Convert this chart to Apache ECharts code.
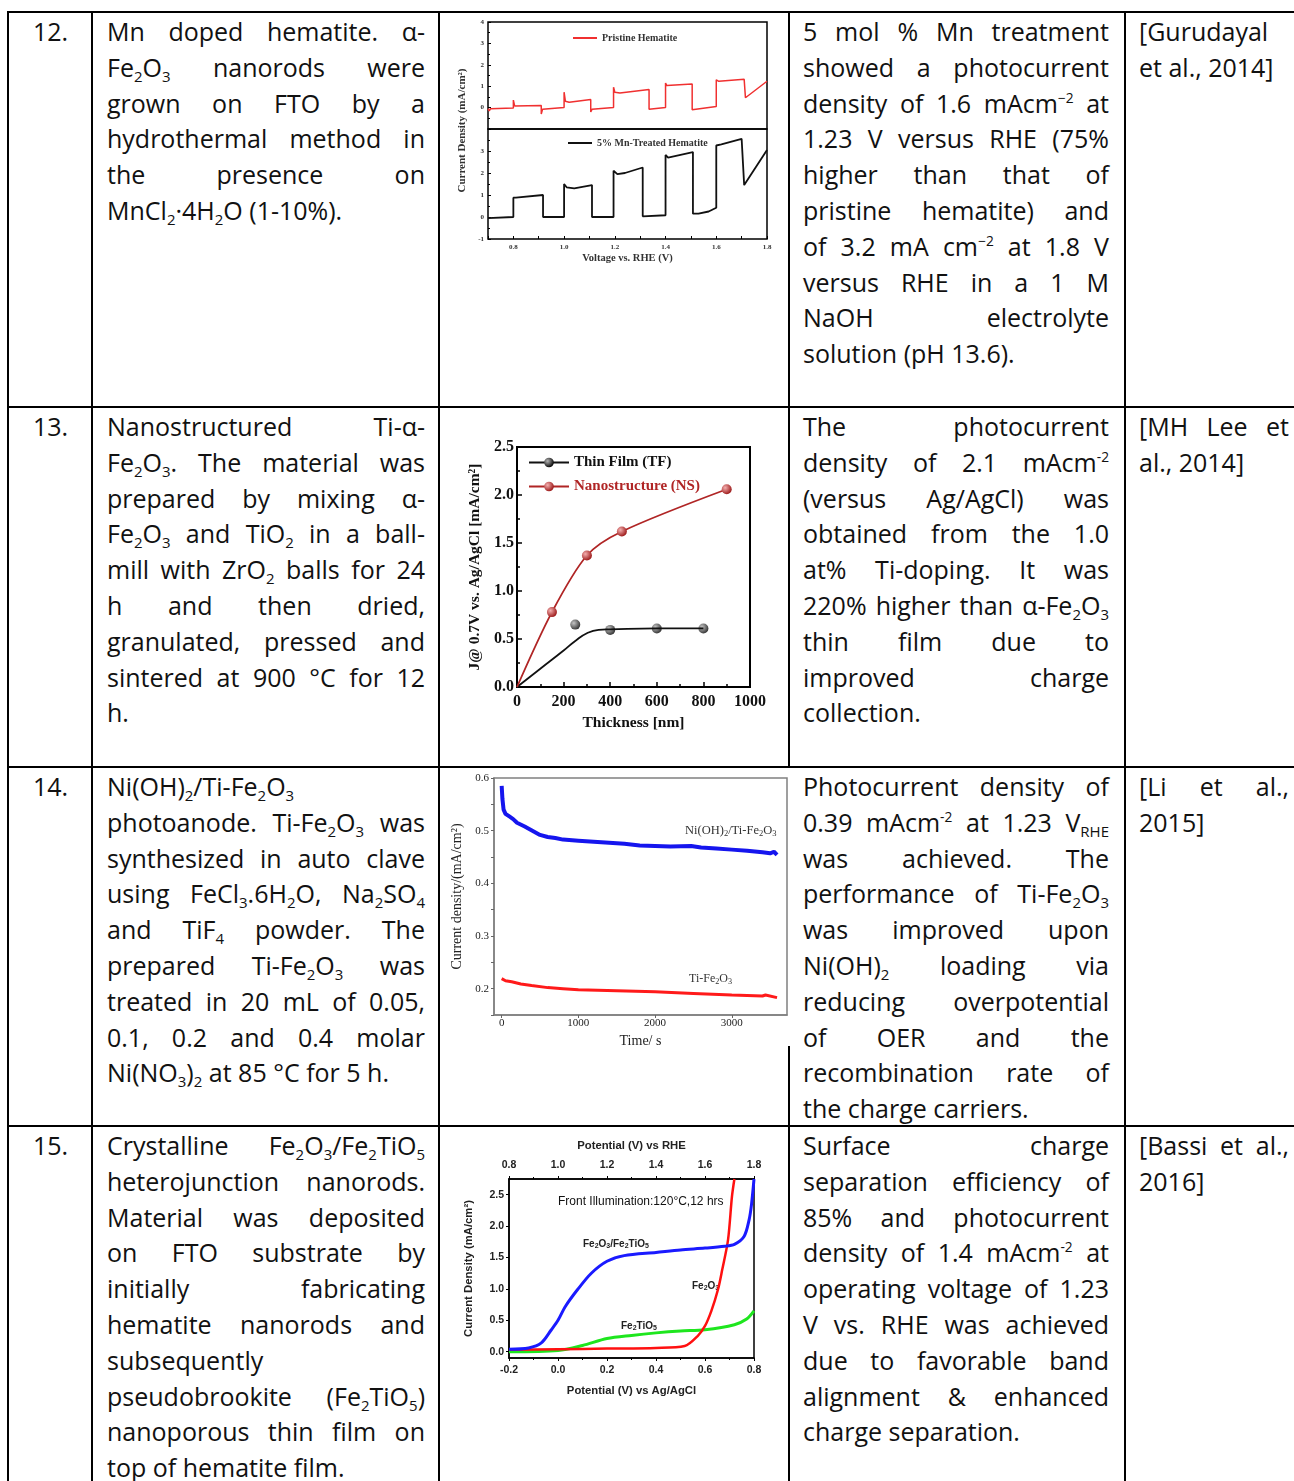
<!DOCTYPE html>
<html>
<head>
<meta charset="utf-8">
<title>Hematite photoanodes</title>
<script src="https://cdn.jsdelivr.net/npm/echarts@6.0.0/dist/echarts.min.js"></script>
<style>
  html, body { margin: 0; padding: 0; background: #fff; }
  #page { position: relative; width: 1294px; height: 1481px; overflow: hidden; background: #fff;
          font-family: 'Open Sans', Lato, sans-serif; font-size: 25px; color: #111; }
  .hl { position: absolute; left: 7px; right: 0; height: 2px; background: #000; z-index: 1; }
  .vl { position: absolute; width: 2px; top: 11px; bottom: 0; background: #000; z-index: 1; }
  .cell { position: absolute; z-index: 3; }
  .ln { height: 35.8px; line-height: 35.8px; white-space: nowrap; }
  .ln.j { display: flex; justify-content: space-between; align-items: baseline; }
  .ln span { flex: 0 0 auto; }
  sub { font-size: 0.6em; vertical-align: -0.3em; line-height: 0; }
  sup { font-size: 0.55em; vertical-align: 0.75em; line-height: 0; }
  .chart { position: absolute; z-index: 2; }
</style>
</head>
<body>
<div id="page"></div>
<script>
// ---- chart 1: Mn doped hematite, chopped light (x = V vs RHE, y = mA/cm2)
const mnPristine = [
  [0.70, -0.05], [0.705, -0.15], [0.71, -0.05], [0.80, -0.02], [0.80, 0.35], [0.805, 0.08],
  [0.91, 0.10], [0.91, -0.30], [0.915, -0.08], [1.00, 0.00], [1.00, 0.72], [1.005, 0.30],
  [1.02, 0.25], [1.105, 0.38], [1.105, -0.20], [1.11, -0.08], [1.195, 0.00], [1.195, 0.95],
  [1.20, 0.72], [1.22, 0.68], [1.335, 0.85], [1.335, -0.08], [1.34, -0.10], [1.40, 0.00],
  [1.40, 1.15], [1.405, 1.03], [1.505, 1.10], [1.505, -0.10], [1.51, -0.05], [1.60, 0.05],
  [1.60, 1.30], [1.61, 1.23], [1.71, 1.32], [1.715, 0.46], [1.80, 1.23]
];
const mnTreated = [
  [0.70, -0.05], [0.80, 0.00], [0.80, 0.88], [0.81, 0.88], [0.917, 1.00], [0.917, 0.00],
  [1.00, 0.00], [1.00, 1.50], [1.01, 1.35], [1.04, 1.30], [1.11, 1.45], [1.11, 0.00],
  [1.195, 0.00], [1.195, 2.10], [1.21, 1.95], [1.24, 2.00], [1.31, 2.25], [1.31, 0.03],
  [1.40, 0.08], [1.40, 2.82], [1.41, 2.70], [1.508, 2.95], [1.508, 0.15], [1.53, 0.15],
  [1.57, 0.25], [1.60, 0.42], [1.60, 3.25], [1.62, 3.30], [1.70, 3.55], [1.71, 1.45],
  [1.80, 3.05]
];

// ---- chart 2: J @ 0.7 V vs thickness
const tfCurve = [[0, 0], [100, 0.19], [200, 0.38], [250, 0.48], [300, 0.56], [350, 0.595], [400, 0.60], [600, 0.61], [800, 0.61]];
const tfPoints = [[250, 0.65], [400, 0.595], [600, 0.61], [800, 0.61]];
const nsPoints = [[0, 0], [150, 0.78], [300, 1.37], [450, 1.62], [900, 2.06]];

// ---- chart 3: stability, current density vs time
const niohTi = [
  [0, 0.585], [10, 0.56], [25, 0.54], [50, 0.532], [100, 0.527], [150, 0.522], [200, 0.515],
  [300, 0.508], [400, 0.5], [500, 0.492], [600, 0.488], [700, 0.486], [800, 0.483], [1000, 0.481],
  [1200, 0.479], [1400, 0.477], [1600, 0.475], [1800, 0.472], [2000, 0.471], [2200, 0.47],
  [2470, 0.471], [2600, 0.468], [2800, 0.466], [3000, 0.464], [3200, 0.462], [3400, 0.459],
  [3500, 0.457], [3550, 0.46], [3590, 0.454]
];
const tiOnly = [
  [0, 0.219], [50, 0.215], [130, 0.213], [250, 0.209], [390, 0.206], [600, 0.202], [800, 0.2],
  [1000, 0.198], [1500, 0.196], [2000, 0.194], [2500, 0.191], [3000, 0.188], [3400, 0.186],
  [3440, 0.188], [3590, 0.183]
];
const timeTicks = [0, 1000, 2000, 3000];

// ---- chart 4: LSV, x = V vs Ag/AgCl
const heteroJ = [
  [-0.2, 0.04], [-0.12, 0.06], [-0.068, 0.14], [-0.027, 0.35], [0.0, 0.5], [0.03, 0.72],
  [0.08, 0.99], [0.136, 1.25], [0.2, 1.44], [0.27, 1.53], [0.4, 1.58], [0.5, 1.62], [0.6, 1.65],
  [0.68, 1.68], [0.72, 1.71], [0.76, 1.84], [0.78, 2.1], [0.79, 2.35], [0.8, 2.75]
];
const hematiteJ = [
  [-0.2, 0.03], [0.0, 0.04], [0.2, 0.05], [0.4, 0.06], [0.517, 0.09], [0.57, 0.25], [0.6, 0.41],
  [0.626, 0.65], [0.653, 0.99], [0.67, 1.3], [0.694, 1.78], [0.71, 2.47], [0.72, 2.75]
];
const pseudoJ = [
  [-0.2, 0.0], [0.0, 0.02], [0.1, 0.1], [0.2, 0.21], [0.3, 0.26], [0.4, 0.30], [0.5, 0.33],
  [0.6, 0.35], [0.72, 0.43], [0.77, 0.52], [0.8, 0.65]
];
const currentTicks = [0, 0.5, 1.0, 1.5, 2.0, 2.5];

// ---- table text
const rows = [
  { top: 12, num: '12.',
    desc: ['Mn doped hematite. α-', 'Fe<sub>2</sub>O<sub>3</sub> nanorods were', 'grown on FTO by a',
      'hydrothermal method in', 'the presence on', 'MnCl<sub>2</sub>·4H<sub>2</sub>O (1-10%).'],
    result: ['5 mol % Mn treatment', 'showed a photocurrent', 'density of 1.6 mAcm<sup>−2</sup> at',
      '1.23 V versus RHE (75%', 'higher than that of', 'pristine hematite) and',
      'of 3.2 mA cm<sup>−2</sup> at 1.8 V', 'versus RHE in a 1 M', 'NaOH electrolyte', 'solution (pH 13.6).'],
    ref: ['|[Gurudayal', 'et al., 2014]'] },
  { top: 407, num: '13.',
    desc: ['Nanostructured Ti-α-', 'Fe<sub>2</sub>O<sub>3</sub>. The material was', 'prepared by mixing α-',
      'Fe<sub>2</sub>O<sub>3</sub> and TiO<sub>2</sub> in a ball-', 'mill with ZrO<sub>2</sub> balls for 24',
      'h and then dried,', 'granulated, pressed and', 'sintered at 900 °C for 12', 'h.'],
    result: ['The photocurrent', 'density of 2.1 mAcm<sup>-2</sup>', '(versus Ag/AgCl) was',
      'obtained from the 1.0', 'at% Ti-doping. It was', '220% higher than α-Fe<sub>2</sub>O<sub>3</sub>',
      'thin film due to', 'improved charge', 'collection.'],
    ref: ['[MH Lee et', 'al., 2014]'] },
  { top: 767, num: '14.',
    desc: ['|Ni(OH)<sub>2</sub>/Ti-Fe<sub>2</sub>O<sub>3</sub>', 'photoanode. Ti-Fe<sub>2</sub>O<sub>3</sub> was',
      'synthesized in auto clave', 'using FeCl<sub>3</sub>.6H<sub>2</sub>O, Na<sub>2</sub>SO<sub>4</sub>',
      'and TiF<sub>4</sub> powder. The', 'prepared Ti-Fe<sub>2</sub>O<sub>3</sub> was',
      'treated in 20 mL of 0.05,', '0.1, 0.2 and 0.4 molar', 'Ni(NO<sub>3</sub>)<sub>2</sub> at 85 °C for 5 h.'],
    result: ['Photocurrent density of', '0.39 mAcm<sup>-2</sup> at 1.23 V<sub>RHE</sub>', 'was achieved. The',
      'performance of Ti-Fe<sub>2</sub>O<sub>3</sub>', 'was improved upon', 'Ni(OH)<sub>2</sub> loading via',
      'reducing overpotential', 'of OER and the', 'recombination rate of', 'the charge carriers.'],
    ref: ['[Li et al.,', '2015]'] },
  { top: 1126, num: '15.',
    desc: ['Crystalline Fe<sub>2</sub>O<sub>3</sub>/Fe<sub>2</sub>TiO<sub>5</sub>', 'heterojunction nanorods.',
      'Material was deposited', 'on FTO substrate by', 'initially fabricating', 'hematite nanorods and',
      '|subsequently', 'pseudobrookite (Fe<sub>2</sub>TiO<sub>5</sub>)', 'nanoporous thin film on',
      'top of hematite film.'],
    result: ['Surface charge', 'separation efficiency of', '85% and photocurrent',
      'density of 1.4 mAcm<sup>-2</sup> at', 'operating voltage of 1.23', 'V vs. RHE was achieved',
      'due to favorable band', 'alignment &amp; enhanced', 'charge separation.'],
    ref: ['[Bassi et al.,', '2016]'] }
];

const page = document.getElementById('page');

// table rules
[12, 407, 767, 1126].forEach(y => {
  const d = document.createElement('div');
  d.className = 'hl'; d.style.top = (y - 1) + 'px';
  page.appendChild(d);
});
[8, 92, 439, 789, 1125].forEach(x => {
  const d = document.createElement('div');
  d.className = 'vl'; d.style.left = (x - 1) + 'px';
  page.appendChild(d);
});

function putCell(x, y, w, lines, align) {
  const box = document.createElement('div');
  box.className = 'cell';
  box.style.left = x + 'px'; box.style.top = y + 'px'; box.style.width = w + 'px';
  if (align) box.style.textAlign = align;
  lines.forEach((raw, i) => {
    let s = raw, just = i < lines.length - 1;
    if (s[0] === '|') { s = s.slice(1); just = false; }
    const d = document.createElement('div');
    d.className = just ? 'ln j' : 'ln';
    d.innerHTML = just ? s.split(' ').map(t => '<span>' + t + '</span>').join('') : s;
    box.appendChild(d);
  });
  page.appendChild(box);
}

rows.forEach(r => {
  putCell(9, r.top + 2, 83, ['|' + r.num], 'center');
  putCell(107, r.top + 2, 318, r.desc);
  putCell(803, r.top + 2, 306, r.result);
  putCell(1139, r.top + 2, 150, r.ref);
});

// squeeze any line that does not fit its cell
document.querySelectorAll('.ln').forEach(d => {
  const over = d.scrollWidth - d.clientWidth;
  if (over > 0) {
    const n = d.textContent.length;
    d.style.letterSpacing = (-(over + 2) / n) + 'px';
  }
});

// ---- charts
const SERIF = 'Liberation Serif, Times New Roman, serif';
const SANS = 'Liberation Sans, Arial, sans-serif';

function makeChart(left, top, w, h, bg) {
  const d = document.createElement('div');
  d.className = 'chart';
  Object.assign(d.style, { left: left + 'px', top: top + 'px', width: w + 'px', height: h + 'px', background: bg || 'transparent' });
  page.appendChild(d);
  return echarts.init(d);
}

function sphere(light, dark) {
  return { type: 'radial', x: 0.35, y: 0.35, r: 0.7,
    colorStops: [{ offset: 0, color: light }, { offset: 1, color: dark }] };
}

// chart 1
const c1 = makeChart(441, 13, 346, 392);
const c1Font = { fontFamily: SERIF, fontWeight: 'bold', fontSize: 7, color: '#333' };
const c1x = (show) => ({
  type: 'value', min: 0.7, max: 1.8, interval: 0.1,
  axisLine: { show: false, onZero: false },
  axisTick: { show: show, inside: true, length: 3, lineStyle: { color: '#000' } },
  axisLabel: { show: show, margin: 5, ...c1Font,
    formatter: v => Math.round(v * 10) % 2 === 0 ? v.toFixed(1) : '' },
  splitLine: { show: false }
});
const c1y = (hide) => ({
  type: 'value', min: -1, max: 4, interval: 1,
  axisLine: { show: false, onZero: false },
  axisTick: { inside: true, length: 3, lineStyle: { color: '#000' } },
  minorTick: { show: true, splitNumber: 2, length: 2, lineStyle: { color: '#000' } },
  axisLabel: { margin: 4, ...c1Font, formatter: v => v === hide ? '' : String(v) },
  splitLine: { show: false }
});
const c1Legend = { fontFamily: SERIF, fontWeight: 'bold', fontSize: 10, color: '#333' };
c1.setOption({
  animation: false,
  grid: [
    { left: 47, top: 9, width: 279, height: 107, show: true, borderColor: '#000', borderWidth: 1.5, outerBoundsMode: 'none' },
    { left: 47, top: 116, width: 279, height: 110, show: true, borderColor: '#000', borderWidth: 1.5, outerBoundsMode: 'none' }
  ],
  xAxis: [
    { gridIndex: 0, ...c1x(false) },
    { gridIndex: 1, ...c1x(true), name: 'Voltage vs. RHE (V)', nameLocation: 'middle', nameGap: 14,
      nameTextStyle: { fontFamily: SERIF, fontWeight: 'bold', fontSize: 10.5, color: '#333' } }
  ],
  yAxis: [
    { gridIndex: 0, ...c1y(-1) },
    { gridIndex: 1, ...c1y(4) }
  ],
  legend: [
    { data: ['Pristine Hematite'], left: 132, top: 20, padding: 0, icon: 'rect', itemWidth: 24, itemHeight: 2,
      textStyle: c1Legend },
    { data: ['5% Mn-Treated Hematite'], left: 127, top: 125, padding: 0, icon: 'rect', itemWidth: 24, itemHeight: 2,
      textStyle: c1Legend }
  ],
  graphic: [{
    type: 'text', x: 21, y: 117.5, rotation: Math.PI / 2,
    style: { text: 'Current Density (mA/cm²)', fontFamily: SERIF, fontWeight: 'bold', fontSize: 11,
      fill: '#333', align: 'center', verticalAlign: 'middle' }
  }],
  series: [
    { name: 'Pristine Hematite', type: 'line', xAxisIndex: 0, yAxisIndex: 0, symbol: 'none',
      data: mnPristine, lineStyle: { color: '#f03030', width: 1.5 }, itemStyle: { color: '#f03030' } },
    { name: '5% Mn-Treated Hematite', type: 'line', xAxisIndex: 1, yAxisIndex: 1, symbol: 'none',
      data: mnTreated, lineStyle: { color: '#111', width: 1.8 }, itemStyle: { color: '#111' } }
  ]
});

// chart 2
const c2 = makeChart(441, 408, 346, 358);
const c2Font = { fontFamily: SERIF, fontWeight: 'bold', fontSize: 16, color: '#111' };
c2.setOption({
  animation: false,
  grid: { left: 76, top: 39, width: 233, height: 240, show: true, borderColor: '#000', borderWidth: 2, outerBoundsMode: 'none' },
  xAxis: {
    type: 'value', min: 0, max: 1000, interval: 200,
    axisLine: { onZero: false, lineStyle: { color: '#000', width: 2 } },
    axisTick: { inside: true, length: 5, lineStyle: { color: '#000', width: 1.5 } },
    minorTick: { show: true, splitNumber: 2, length: 3, lineStyle: { color: '#000', width: 1.5 } },
    axisLabel: { margin: 7, ...c2Font, formatter: v => String(v) },
    splitLine: { show: false },
    name: 'Thickness [nm]', nameLocation: 'middle', nameGap: 28, nameTextStyle: { ...c2Font, fontSize: 15.5 }
  },
  yAxis: {
    type: 'value', min: 0, max: 2.5, interval: 0.5,
    axisLine: { onZero: false, lineStyle: { color: '#000', width: 2 } },
    axisTick: { inside: true, length: 5, lineStyle: { color: '#000', width: 1.5 } },
    minorTick: { show: true, splitNumber: 2, length: 3, lineStyle: { color: '#000', width: 1.5 } },
    axisLabel: { margin: 3, ...c2Font, formatter: v => v.toFixed(1) },
    splitLine: { show: false },
    name: 'J@ 0.7V vs. Ag/AgCl [mA/cm²]', nameLocation: 'middle', nameGap: 32, nameTextStyle: { ...c2Font, fontSize: 15.5 }
  },
  legend: {
    data: ['Thin Film (TF)', { name: 'Nanostructure (NS)', textStyle: { color: '#b02525' } }],
    orient: 'vertical', left: 87, top: 47, padding: 0, itemWidth: 40, itemHeight: 12, itemGap: 9,
    textStyle: { ...c2Font, fontSize: 15 }
  },
  series: [
    { name: 'Thin Film (TF)', type: 'line', smooth: 0.5, symbol: 'circle', symbolSize: 10,
      data: tfCurve.map(p => ({ value: p, symbol: 'none' })),
      lineStyle: { color: '#111', width: 1.8 }, itemStyle: { color: sphere('#b5b5b5', '#000') } },
    { name: 'TF data', type: 'scatter', symbolSize: 10, data: tfPoints,
      itemStyle: { color: sphere('#b5b5b5', '#000') } },
    { name: 'Nanostructure (NS)', type: 'line', smooth: 0.3, symbol: 'circle', symbolSize: 10,
      data: nsPoints.map((p, i) => i === 0 ? { value: p, symbol: 'none' } : p),
      lineStyle: { color: '#b02525', width: 1.8 }, itemStyle: { color: sphere('#f4b0b0', '#9a1515') } }
  ]
});

// chart 3
const c3 = makeChart(444, 768, 346, 278, '#fff');
const c3Font = { fontFamily: SERIF, fontSize: 11, color: '#222' };
const sub3 = (size) => ({
  a: { fontFamily: SERIF, fontSize: size, lineHeight: 14, fill: '#333' },
  s: { fontFamily: SERIF, fontSize: size * 0.68, lineHeight: 12, verticalAlign: 'bottom', fill: '#333' }
});
c3.setOption({
  animation: false,
  grid: { left: 50, top: 10, width: 293, height: 237, show: true, borderColor: '#808080', borderWidth: 1.5, outerBoundsMode: 'none' },
  xAxis: {
    type: 'value', min: -100, max: 3720,
    axisLine: { onZero: false, lineStyle: { color: '#808080', width: 1.5 } },
    axisTick: { customValues: timeTicks, length: 3, lineStyle: { color: '#666' } },
    axisLabel: { customValues: timeTicks, margin: 3, ...c3Font, formatter: v => String(v) },
    splitLine: { show: false },
    name: 'Time/ s', nameLocation: 'middle', nameGap: 16,
    nameTextStyle: { fontFamily: SERIF, fontSize: 14, color: '#222' }
  },
  yAxis: {
    type: 'value', min: 0.15, max: 0.6, interval: 0.05,
    axisLine: { onZero: false, lineStyle: { color: '#808080', width: 1.5 } },
    axisTick: { length: 3, lineStyle: { color: '#666' } },
    axisLabel: { margin: 5, ...c3Font,
      formatter: v => Math.round(v * 100) % 10 === 0 ? v.toFixed(1) : '' },
    splitLine: { show: false },
    name: 'Current density/(mA/cm²)', nameLocation: 'middle', nameGap: 21,
    nameTextStyle: { fontFamily: SERIF, fontSize: 14, color: '#222' }
  },
  graphic: [
    { type: 'text', x: 241, y: 56, style: { text: '{a|Ni(OH)}{s|2}{a|/Ti-Fe}{s|2}{a|O}{s|3}', rich: sub3(12.5) } },
    { type: 'text', x: 245, y: 204, style: { text: '{a|Ti-Fe}{s|2}{a|O}{s|3}', rich: sub3(12) } }
  ],
  series: [
    { name: 'Ni(OH)2/Ti-Fe2O3', type: 'line', symbol: 'none', data: niohTi,
      lineStyle: { color: '#1515ee', width: 4 } },
    { name: 'Ti-Fe2O3', type: 'line', symbol: 'none', data: tiOnly,
      lineStyle: { color: '#ff1a1a', width: 3 } }
  ]
});

// chart 4
const c4 = makeChart(441, 1128, 346, 353);
const c4Font = { fontFamily: SANS, fontWeight: 'bold', fontSize: 10.5, color: '#222' };
const c4Name = { fontFamily: SANS, fontWeight: 'bold', fontSize: 11.3, color: '#222' };
const sub4 = {
  a: { fontFamily: SANS, fontWeight: 'bold', fontSize: 10, lineHeight: 12, fill: '#222' },
  s: { fontFamily: SANS, fontWeight: 'bold', fontSize: 7, lineHeight: 11, verticalAlign: 'bottom', fill: '#222' }
};
const c4x = {
  axisLine: { onZero: false, lineStyle: { color: '#000', width: 1.5 } },
  axisTick: { length: 3, lineStyle: { color: '#000' } },
  minorTick: { show: true, splitNumber: 2, length: 2, lineStyle: { color: '#000' } },
  splitLine: { show: false }
};
c4.setOption({
  animation: false,
  grid: { left: 68, top: 51, width: 245, height: 179, show: true, borderColor: '#000', borderWidth: 1.5, outerBoundsMode: 'none' },
  xAxis: [
    { type: 'value', position: 'bottom', min: -0.2, max: 0.8, interval: 0.2, ...c4x,
      axisLabel: { margin: 7, ...c4Font, formatter: v => v.toFixed(1) },
      name: 'Potential (V) vs Ag/AgCl', nameLocation: 'middle', nameGap: 27, nameTextStyle: c4Name },
    { type: 'value', position: 'top', min: 0.8, max: 1.8, interval: 0.2, ...c4x,
      axisLabel: { margin: 8, ...c4Font, formatter: v => v.toFixed(1) },
      name: 'Potential (V) vs RHE', nameLocation: 'middle', nameGap: 28, nameTextStyle: c4Name }
  ],
  yAxis: {
    type: 'value', min: -0.1, max: 2.75,
    axisLine: { onZero: false, lineStyle: { color: '#000', width: 1.5 } },
    axisTick: { customValues: currentTicks, length: 3, lineStyle: { color: '#000' } },
    axisLabel: { customValues: currentTicks, margin: 5, ...c4Font, formatter: v => v.toFixed(1) },
    splitLine: { show: false },
    name: 'Current Density (mA/cm²)', nameLocation: 'middle', nameGap: 35, nameTextStyle: c4Name
  },
  graphic: [
    { type: 'text', x: 117, y: 74, style: { text: 'Front Illumination:120°C,12 hrs', fontFamily: SANS,
      fontSize: 12, fill: '#111', verticalAlign: 'middle' } },
    { type: 'text', x: 142, y: 110, style: { text: '{a|Fe}{s|2}{a|O}{s|3}{a|/Fe}{s|2}{a|TiO}{s|5}', rich: sub4 } },
    { type: 'text', x: 251, y: 152, style: { text: '{a|Fe}{s|2}{a|O}{s|3}', rich: sub4 } },
    { type: 'text', x: 180, y: 192, style: { text: '{a|Fe}{s|2}{a|TiO}{s|5}', rich: sub4 } }
  ],
  series: [
    { name: 'Fe2TiO5', type: 'line', symbol: 'none', smooth: 0.3, data: pseudoJ, lineStyle: { color: '#1ee61e', width: 3 } },
    { name: 'Fe2O3', type: 'line', symbol: 'none', smooth: 0.3, data: hematiteJ, lineStyle: { color: '#ff1010', width: 2.5 } },
    { name: 'Fe2O3/Fe2TiO5', type: 'line', symbol: 'none', smooth: 0.3, data: heteroJ, lineStyle: { color: '#1a1aff', width: 3 } }
  ]
});
</script>
</body>
</html>
